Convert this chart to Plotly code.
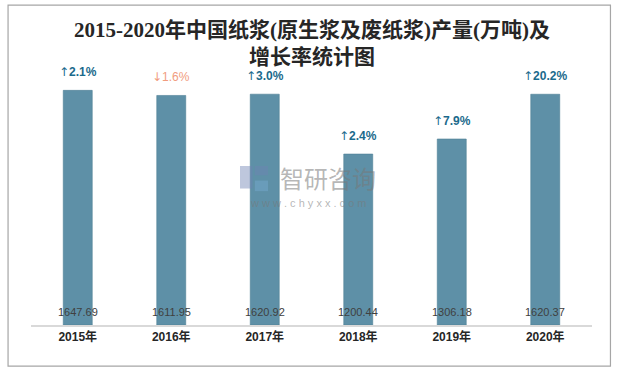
import plotly.graph_objects as go

years = ["2015年", "2016年", "2017年", "2018年", "2019年", "2020年"]
output = [1647.69, 1611.95, 1620.92, 1200.44, 1306.18, 1620.37]
growth = [2.1, -1.6, 3.0, 2.4, 7.9, 20.2]

bar_color = "#5E90A7"
up_color = "#1B6A8C"
down_color = "#F19C7E"

fig = go.Figure()
fig.add_trace(go.Bar(
    x=years, y=output,
    marker=dict(color=bar_color, line=dict(color="#4F7F96", width=0.6)),
    hoverinfo="skip",
))

annotations = []
for yr, v, g in zip(years, output, growth):
    if g >= 0:
        txt = f"<span style='font-family:DejaVu Sans'>↑</span><b>{g:.1f}%</b>"
        col = up_color
    else:
        txt = f"<span style='font-family:DejaVu Sans'>↓</span>{abs(g):.1f}%"
        col = down_color
    annotations.append(dict(
        x=yr, y=v, xref="x", yref="y", text=txt, showarrow=False,
        yanchor="bottom", yshift=9,
        font=dict(family="Liberation Sans, Noto Sans CJK SC", size=12, color=col),
    ))
    annotations.append(dict(
        x=yr, y=0, xref="x", yref="y", text=f"{v:.2f}", showarrow=False,
        yanchor="bottom", yshift=5,
        font=dict(family="Liberation Sans, Noto Sans CJK SC", size=11, color="#404040"),
    ))

# title
annotations.append(dict(
    x=0.5, y=1.062, xref="paper", yref="paper", showarrow=False,
    xanchor="center", yanchor="middle",
    text="<b>2015-2020年中国纸浆(原生浆及废纸浆)产量(万吨)及<br>增长率统计图</b>",
    font=dict(family="Liberation Serif, Noto Sans CJK SC", size=21, color="#262626"),
))

# watermark
annotations.append(dict(
    x=0.53, y=0.556, xref="paper", yref="paper", showarrow=False,
    text="智研咨询",
    font=dict(family="Noto Sans CJK SC", size=24, color="rgba(120,120,120,0.55)"),
))
annotations.append(dict(
    x=0.495, y=0.462, xref="paper", yref="paper", showarrow=False,
    text="w w w . c h y x x . c o m",
    font=dict(family="Liberation Sans", size=11, color="rgba(120,120,120,0.55)"),
))

fig.update_layout(
    width=619, height=372,
    margin=dict(l=31, r=27, t=60, b=47),
    paper_bgcolor="white", plot_bgcolor="white",
    bargap=0.69,
    showlegend=False,
    xaxis=dict(
        showline=True, linecolor="#D9D9D9", linewidth=1.5,
        ticks="", tickfont=dict(family="Liberation Sans, Noto Sans CJK SC", size=12, color="#262626"),
        tickprefix="<b>", ticksuffix="</b>",
    ),
    yaxis=dict(range=[0, 1861], visible=False, showgrid=False, zeroline=False),
    annotations=annotations,
    shapes=[
        dict(type="rect", xref="paper", yref="paper",
             x0=-0.0409, x1=1.0329, y0=-0.155, y1=1.207,
             line=dict(color="#A6A6A6", width=1.2), layer="below"),
        # logo blocks in watermark
        dict(type="rect", xref="paper", yref="paper", x0=0.3725, x1=0.395, y0=0.515, y1=0.60,
             fillcolor="rgba(110,130,180,0.45)", line=dict(width=0)),
        dict(type="rect", xref="paper", yref="paper", x0=0.399, x1=0.4225, y0=0.565, y1=0.60,
             fillcolor="rgba(110,130,180,0.45)", line=dict(width=0)),
        dict(type="rect", xref="paper", yref="paper", x0=0.399, x1=0.4225, y0=0.505, y1=0.545,
             fillcolor="rgba(120,170,210,0.45)", line=dict(width=0)),
    ],
)

fig.write_html("out.html", config={"displayModeBar": False},
               post_script="document.body.style.margin='0';")
